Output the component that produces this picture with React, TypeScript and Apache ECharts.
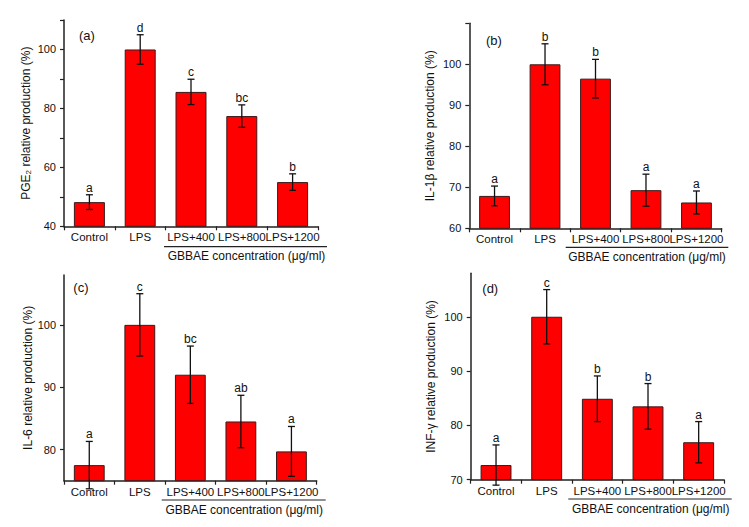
import React, { useEffect, useRef } from "react";
import * as echarts from "echarts";

const categories = ["Control", "LPS", "LPS+400", "LPS+800", "LPS+1200"];

const pge2Mean = [48.2, 100, 85.6, 77.4, 55.0];
const pge2Err = [2.5, 5.0, 4.3, 3.8, 2.8];
const pge2Letters = ["a", "d", "c", "bc", "b"];
const pge2TickLabels = [40, 60, 80, 100];
const pge2TickMarks = [40, 50, 60, 70, 80, 90, 100, 110];

const il1bMean = [67.9, 100, 96.5, 69.3, 66.3];
const il1bErr = [2.4, 5.0, 4.7, 3.9, 2.8];
const il1bLetters = ["a", "b", "b", "a", "a"];
const il1bTickLabels = [60, 70, 80, 90, 100];
const il1bTickMarks = [60, 70, 80, 90, 100, 110];

const il6Mean = [77.5, 100, 92.0, 84.5, 79.7];
const il6Err = [3.8, 5.0, 4.6, 4.2, 4.0];
const il6Letters = ["a", "c", "bc", "ab", "a"];
const il6TickLabels = [80, 90, 100];
const il6TickMarks = [80, 90, 100];

const infMean = [72.7, 100, 84.9, 83.5, 76.9];
const infErr = [3.7, 5.0, 4.2, 4.2, 3.8];
const infLetters = ["a", "c", "b", "b", "a"];
const infTickLabels = [70, 80, 90, 100];
const infTickMarks = [70, 80, 90, 100];

const xGroupTitle = "GBBAE concentration (μg/ml)";

const FONT = "'Liberation Sans', Arial, Helvetica, sans-serif";

type Panel = {
  tag: string;
  mean: number[];
  err: number[];
  letters: string[];
  yName: string;
  yMin: number;
  yMax: number;
  tickLabels: number[];
  tickMarks: number[];
  grid: { left: number; top: number; width: number; height: number };
  nameGap: number;
  tagPos: [number, number];
  line: [number, number, number];
  textPos: [number, number];
};

const panels: Panel[] = [
  {
    tag: "(a)",
    mean: pge2Mean,
    err: pge2Err,
    letters: pge2Letters,
    yName: "PGE{sub|2} relative production (%)",
    yMin: 40,
    yMax: 110,
    tickLabels: pge2TickLabels,
    tickMarks: pge2TickMarks,
    grid: { left: 64, top: 20, width: 254, height: 206.3 },
    nameGap: 32,
    tagPos: [79, 35],
    line: [164, 327, 246.7],
    textPos: [246.5, 256],
  },
  {
    tag: "(b)",
    mean: il1bMean,
    err: il1bErr,
    letters: il1bLetters,
    yName: "IL-1β relative production (%)",
    yMin: 60,
    yMax: 110,
    tickLabels: il1bTickLabels,
    tickMarks: il1bTickMarks,
    grid: { left: 469.3, top: 23.3, width: 252.4, height: 205 },
    nameGap: 33,
    tagPos: [486, 40],
    line: [565.7, 728.3, 247.3],
    textPos: [647, 256.7],
  },
  {
    tag: "(c)",
    mean: il6Mean,
    err: il6Err,
    letters: il6Letters,
    yName: "IL-6 relative production (%)",
    yMin: 75,
    yMax: 108,
    tickLabels: il6TickLabels,
    tickMarks: il6TickMarks,
    grid: { left: 64, top: 275, width: 252.7, height: 205.7 },
    nameGap: 30,
    tagPos: [73.3, 287.3],
    line: [161.7, 325.7, 500],
    textPos: [244.2, 510],
  },
  {
    tag: "(d)",
    mean: infMean,
    err: infErr,
    letters: infLetters,
    yName: "INF-γ relative production (%)",
    yMin: 70,
    yMax: 108,
    tickLabels: infTickLabels,
    tickMarks: infTickMarks,
    grid: { left: 470.7, top: 273.3, width: 253.3, height: 206.4 },
    nameGap: 34,
    tagPos: [482.3, 288.3],
    line: [568.3, 731.7, 499],
    textPos: [650.7, 509],
  },
];

export default function App() {
  const ref = useRef<HTMLDivElement>(null);

  useEffect(() => {
    if (!ref.current) return;
    const chart = echarts.init(ref.current, null, { renderer: "svg" });

    const axisLine = { show: true, lineStyle: { color: "#222", width: 1.5 } };

    const grids = panels.map((p) => ({
      left: p.grid.left,
      top: p.grid.top,
      width: p.grid.width,
      height: p.grid.height,
      containLabel: false,
      outerBoundsMode: "none",
    }));

    const xAxes = panels.map((p, i) => ({
      type: "category",
      gridIndex: i,
      data: categories,
      axisLine,
      axisTick: { show: true, length: 4, interval: 0, lineStyle: { color: "#222", width: 1.2 } },
      axisLabel: {
        color: "#111",
        fontSize: 11.5,
        fontFamily: FONT,
        margin: 5,
        interval: 0,
        overflow: "none",
        hideOverlap: false,
        width: 80,
      },
      splitLine: { show: false },
    }));

    const yAxes = panels.map((p, i) => ({
      type: "value",
      gridIndex: i,
      min: p.yMin,
      max: p.yMax,
      axisLine,
      axisTick: {
        show: true,
        length: 4,
        customValues: p.tickMarks,
        lineStyle: { color: "#222", width: 1.2 },
      },
      axisLabel: {
        color: "#111",
        fontSize: 11,
        fontFamily: FONT,
        margin: 8,
        customValues: p.tickLabels,
      },
      splitLine: { show: false },
      name: p.yName,
      nameLocation: "middle",
      nameGap: p.nameGap,
      nameRotate: 90,
      nameTextStyle: {
        color: "#111",
        fontSize: 12,
        fontFamily: FONT,
        rich: {
          sub: { fontSize: 8, fontFamily: FONT, color: "#111", verticalAlign: "bottom", padding: [4, 0, 0, 0] },
        },
      },
    }));

    const series: any[] = [];
    panels.forEach((p, i) => {
      series.push({
        type: "bar",
        xAxisIndex: i,
        yAxisIndex: i,
        data: p.mean,
        barWidth: "61%",
        itemStyle: { color: "#ff0000", borderColor: "#3a1a1a", borderWidth: 1 },
      });
      series.push({
        type: "custom",
        xAxisIndex: i,
        yAxisIndex: i,
        clip: false,
        z: 5,
        data: p.mean.map((m, k) => [k, m, p.err[k]]),
        renderItem: (params: any, api: any) => {
          const x = api.value(0);
          const m = api.value(1);
          const e = api.value(2);
          const top = api.coord([x, m + e]);
          const bot = api.coord([x, m - e]);
          const cap = 3.5;
          const st = { stroke: "#111", lineWidth: 1.3 };
          return {
            type: "group",
            children: [
              { type: "line", shape: { x1: top[0], y1: top[1], x2: bot[0], y2: bot[1] }, style: st },
              { type: "line", shape: { x1: top[0] - cap, y1: top[1], x2: top[0] + cap, y2: top[1] }, style: st },
              { type: "line", shape: { x1: bot[0] - cap, y1: bot[1], x2: bot[0] + cap, y2: bot[1] }, style: st },
              {
                type: "text",
                x: top[0],
                y: top[1] - 1,
                style: {
                  text: p.letters[params.dataIndex],
                  align: "center",
                  verticalAlign: "bottom",
                  fontSize: 12,
                  fontFamily: FONT,
                  fill: "#111",
                },
              },
            ],
          };
        },
      });
    });

    const graphic: any[] = [];
    panels.forEach((p) => {
      graphic.push({
        type: "text",
        x: p.tagPos[0],
        y: p.tagPos[1],
        style: { text: p.tag, fontSize: 13, fontFamily: FONT, fill: "#111", align: "left", verticalAlign: "middle" },
      });
      graphic.push({
        type: "line",
        shape: { x1: p.line[0], y1: p.line[2], x2: p.line[1], y2: p.line[2] },
        style: { stroke: "#222", lineWidth: 1.2 },
      });
      graphic.push({
        type: "text",
        x: p.textPos[0],
        y: p.textPos[1],
        style: { text: xGroupTitle, fontSize: 12, fontFamily: FONT, fill: "#111", align: "center", verticalAlign: "middle" },
      });
    });

    chart.setOption({
      animation: false,
      backgroundColor: "#ffffff",
      grid: grids,
      xAxis: xAxes,
      yAxis: yAxes,
      series,
      graphic,
    } as any);

    return () => chart.dispose();
  }, []);

  return (
    <div
      ref={ref}
      style={{ position: "fixed", left: 0, top: 0, width: 749, height: 527, background: "#fff" }}
    />
  );
}
